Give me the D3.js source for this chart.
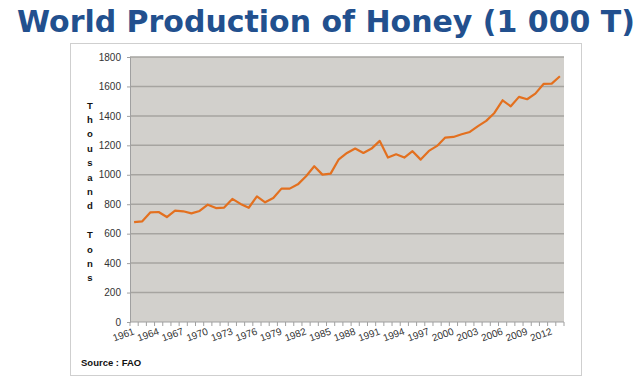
<!DOCTYPE html>
<html>
<head>
<meta charset="utf-8">
<script src="https://cdn.jsdelivr.net/npm/d3@7"></script>
<style>
  html, body { margin: 0; padding: 0; background: #ffffff; }
  svg { display: block; }
</style>
</head>
<body>
<svg id="chart" width="640" height="386"></svg>
<script>
const title = "World Production of Honey (1 000 T)";
const yAxisTitle = "Thousand Tons";
const sourceText = "Source : FAO";
const years = d3.range(1961, 2014);
const production = [679, 684, 745, 747, 713, 757, 752, 738, 754, 797,
  774, 777, 836, 802, 776, 853, 813, 842, 906, 906,
  935, 990, 1058, 1001, 1008, 1105, 1148, 1178, 1148, 1178,
  1230, 1117, 1139, 1117, 1160, 1103, 1162, 1196, 1253, 1257,
  1275, 1291, 1330, 1366, 1420, 1506, 1465, 1529, 1513, 1551,
  1617, 1619, 1669];
const yTicks = [0, 200, 400, 600, 800, 1000, 1200, 1400, 1600, 1800];
const xLabelYears = d3.range(1961, 2014, 3);

const svg = d3.select("#chart");
const L = 130, R = 564, T = 57, B = 322;

// Title
const tt = svg.append("text")
  .attr("x", 326).attr("y", 32)
  .attr("text-anchor", "middle")
  .attr("font-family", "DejaVu Sans, Verdana, sans-serif")
  .attr("font-weight", "bold")
  .attr("font-size", 28)
  .attr("fill", "#22508e")
  .text(title);
const tw = tt.node().getComputedTextLength();
tt.attr("font-size", 28 * 618 / tw);

// Chart frame
svg.append("rect").attr("x", 70.5).attr("y", 43.5).attr("width", 511).attr("height", 332)
  .attr("fill", "#fff").attr("stroke", "#cfcfcf").attr("stroke-width", 1);

const x = d3.scaleBand().domain(years).range([L, R]);
const y = d3.scaleLinear().domain([0, 1800]).range([B, T]);

// Plot background
svg.append("rect").attr("x", L).attr("y", y(1800)).attr("width", R - L).attr("height", y(0) - y(1800))
  .attr("fill", "#d2d0cc");

// Gridlines
svg.append("g").selectAll("line").data(yTicks.filter(d => d > 0)).join("line")
  .attr("x1", L).attr("x2", R)
  .attr("y1", d => y(d)).attr("y2", d => y(d))
  .attr("stroke", "#a6a4a0").attr("stroke-width", 1.5);

// Y axis
const ya = svg.append("g").attr("transform", `translate(${L},0)`)
  .call(d3.axisLeft(y).tickValues(yTicks).tickFormat(d3.format("d")).tickSize(3).tickPadding(6));
ya.select(".domain").attr("stroke", "#a0a0a0");
ya.selectAll(".tick line").attr("stroke", "#a0a0a0");
ya.selectAll(".tick text").attr("font-family", "Liberation Sans, Arial, sans-serif")
  .attr("font-size", 10).attr("fill", "#333");

// X axis ticks at category boundaries
const bounds = years.map(d => x(d)).concat([R]);
svg.append("g").selectAll("line").data(bounds).join("line")
  .attr("x1", d => d).attr("x2", d => d)
  .attr("y1", B).attr("y2", B + 4)
  .attr("stroke", "#a0a0a0").attr("stroke-width", 1);
svg.append("line").attr("x1", L).attr("x2", R).attr("y1", B).attr("y2", B)
  .attr("stroke", "#a0a0a0").attr("stroke-width", 1);

// X labels
svg.append("g").selectAll("text").data(xLabelYears).join("text")
  .attr("transform", d => `translate(${x(d) + x.bandwidth() / 2 + 1},334) rotate(-20)`)
  .attr("text-anchor", "end")
  .attr("font-family", "Liberation Sans, Arial, sans-serif")
  .attr("font-size", 10).attr("fill", "#333")
  .text(d => d);

// Y axis title (stacked letters)
svg.append("g").selectAll("text").data(yAxisTitle.split("")).join("text")
  .attr("x", 90).attr("y", (d, i) => 108.5 + i * 14.4)
  .attr("text-anchor", "middle")
  .attr("font-family", "Liberation Sans, Arial, sans-serif")
  .attr("font-weight", "bold").attr("font-size", 9.5).attr("fill", "#111")
  .text(d => d);

// Line
const line = d3.line()
  .x((d, i) => x(years[i]) + x.bandwidth() / 2)
  .y(d => y(d));
svg.append("path").datum(production)
  .attr("d", line)
  .attr("fill", "none")
  .attr("stroke", "#e3701f")
  .attr("stroke-width", 2.2)
  .attr("stroke-linejoin", "round");

// Source
svg.append("text").attr("x", 81).attr("y", 366)
  .attr("font-family", "Liberation Sans, Arial, sans-serif")
  .attr("font-weight", "bold").attr("font-size", 9.5).attr("fill", "#111")
  .text(sourceText);
</script>
</body>
</html>
